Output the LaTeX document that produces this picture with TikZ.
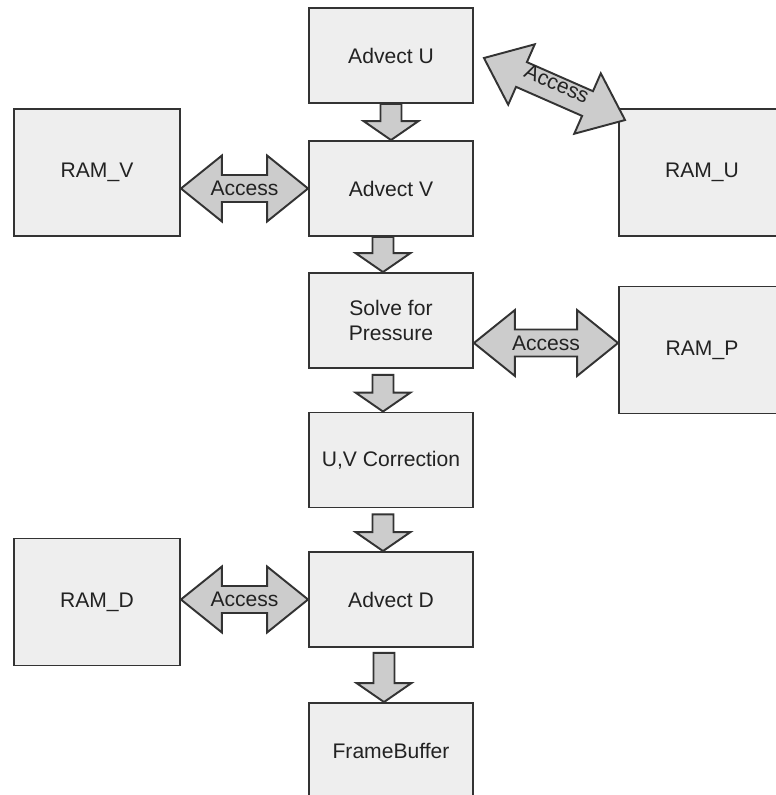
\documentclass[tikz,border=0pt]{standalone}
\usepackage{fontspec}
\setmainfont{Liberation Sans}
\usetikzlibrary{calc}
\definecolor{ink}{HTML}{222222}
\definecolor{edge}{HTML}{333333}
\definecolor{boxfill}{HTML}{EEEEEE}
\definecolor{arrowfill}{HTML}{CCCCCC}
\tikzset{
  every node/.style={font=\fontsize{12}{14}\selectfont, text=ink},
  stage/.style={draw=edge, fill=boxfill, line width=1.1pt, align=center, minimum width=3.28cm, minimum height=1.9cm, inner sep=0pt},
  ram/.style={stage, minimum width=3.32cm, minimum height=2.54cm},
  blockarrow/.style={draw=edge, fill=arrowfill, line width=1.1pt},
  acctext/.style={inner sep=0pt},
}
\newcommand{\flowarrow}[2]{% #1 from, #2 to
  \coordinate (arrA) at (#1);
  \coordinate (arrB) at (#2);
  \coordinate (arrQ) at ($(arrB)!0.38cm!(arrA)$);
  \draw[blockarrow] ($(arrA)!0.21cm!-90:(arrB)$) -- ($(arrQ)!0.21cm!90:(arrA)$) -- ($(arrQ)!0.55cm!90:(arrA)$) -- (arrB)
    -- ($(arrQ)!0.55cm!-90:(arrA)$) -- ($(arrQ)!0.21cm!-90:(arrA)$) -- ($(arrA)!0.21cm!90:(arrB)$) -- cycle;
}
\newcommand{\accessarrow}[4]{% #1 one end, #2 other end, #3 label name, #4 label offset
  \coordinate (arrA) at (#1);
  \coordinate (arrB) at (#2);
  \coordinate (arrP) at ($(arrA)!0.82cm!(arrB)$);
  \coordinate (arrQ) at ($(arrB)!0.82cm!(arrA)$);
  \draw[blockarrow] (arrA) -- ($(arrP)!0.66cm!-90:(arrB)$) -- ($(arrP)!0.27cm!-90:(arrB)$)
    -- ($(arrQ)!0.27cm!90:(arrA)$) -- ($(arrQ)!0.66cm!90:(arrA)$) -- (arrB)
    -- ($(arrQ)!0.66cm!-90:(arrA)$) -- ($(arrQ)!0.27cm!-90:(arrA)$)
    -- ($(arrP)!0.27cm!90:(arrB)$) -- ($(arrP)!0.66cm!90:(arrB)$) -- cycle;
  \path ($(arrA)!#4!90:(arrB)$) -- node[acctext, sloped] (#3) {Access} ($(arrB)!#4!-90:(arrA)$);
}

\begin{document}
\begin{tikzpicture}[x=0.02cm, y=-0.02cm]
  \useasboundingbox (0,0) rectangle (776,795);

  \node[stage] (advU) at (391,55.5) {Advect U};
  \node[stage] (advV) at (391,188.5) {Advect V};
  \node[stage] (solve) at (391,320.5) {Solve for\\Pressure};
  \node[stage] (uvc) at (391,460) {U,V Correction};
  \node[stage] (advD) at (391,599.5) {Advect D};
  \node[stage] (frame) at (391,750.5) {FrameBuffer};

  \node[ram] (ramV) at (97,172.5) {RAM\_V};
  \node[ram] (ramU) at (702,172.5) {RAM\_U};
  \node[ram] (ramP) at (702,350) {RAM\_P};
  \node[ram] (ramD) at (97,602) {RAM\_D};

  % solver steps, top to bottom
  \flowarrow{advU.south}{advV.north}
  \flowarrow{$(advV.south)+(-8,0)$}{$(solve.north)+(-8,0)$}
  \flowarrow{$(solve.south)+(-8,6)$}{$(uvc.north)+(-8,0)$}
  \flowarrow{$(uvc.south)+(-8,6)$}{$(advD.north)+(-8,0)$}
  \flowarrow{$(advD.south)+(-7,5)$}{$(frame.north)+(-7,0)$}

  % memory access
  \coordinate (pLink) at ($(ramP.west)+(0,-7)$);
  \accessarrow{ramV.east |- advV.west}{advV.west}{accV}{0cm}
  \accessarrow{solve.east |- pLink}{pLink}{accP}{0cm}
  \accessarrow{ramD.east |- advD.west}{advD.west}{accD}{0cm}
  \accessarrow{$(advU.east)+(10,2.5)$}{$(ramU.north west)+(7,12)$}{accU}{0.12cm}
\end{tikzpicture}
\end{document}
